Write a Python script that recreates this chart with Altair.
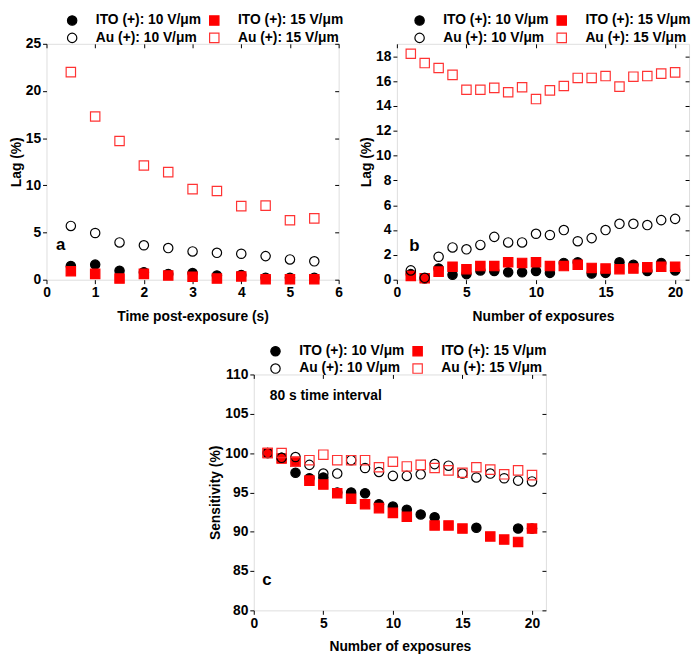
import altair as alt
import pandas as pd

FONT = "Liberation Sans"

series = ["ITO (+): 10 V/μm", "ITO (+): 15 V/μm", "Au (+): 10 V/μm", "Au (+): 15 V/μm"]
shapes = ["circle", "square", "circle", "square"]
strokes = ["#000000", "#ff0000", "#000000", "#ff3333"]
fills = ["#000000", "#ff0000", "transparent", "transparent"]

# Panel a: lag vs time post-exposure
a_x = [0.5, 1.0, 1.5, 2.0, 2.5, 3.0, 3.5, 4.0, 4.5, 5.0, 5.5]
a_ito10 = [1.45, 1.6, 0.95, 0.8, 0.6, 0.7, 0.45, 0.5, 0.2, 0.2, 0.2]
a_ito15 = [0.9, 0.62, 0.12, 0.62, 0.45, 0.32, 0.12, 0.35, 0.05, 0.05, 0.05]
a_au10 = [5.7, 4.95, 3.95, 3.65, 3.35, 3.0, 2.85, 2.75, 2.5, 2.15, 1.95]
a_au15 = [22.0, 17.3, 14.7, 12.1, 11.4, 9.6, 9.4, 7.8, 7.85, 6.3, 6.5]

# Panel b: lag vs number of exposures
b_x = list(range(1, 21))
b_ito10 = [0.45, 0.1, 0.9, 0.4, 0.45, 0.75, 0.7, 0.6, 0.6, 0.7, 0.55, 1.35, 1.4, 0.5, 0.55, 1.4, 1.2, 0.7, 1.35, 0.75]
b_ito15 = [0.3, 0.12, 0.65, 1.05, 0.85, 1.1, 1.1, 1.4, 1.35, 1.4, 1.1, 1.1, 1.2, 0.95, 0.9, 0.85, 0.9, 1.0, 1.05, 1.05]
b_au10 = [0.75, 0.15, 1.85, 2.6, 2.45, 2.8, 3.45, 3.0, 3.0, 3.7, 3.6, 4.0, 3.1, 3.35, 4.0, 4.5, 4.5, 4.4, 4.8, 4.9]
b_au15 = [18.2, 17.45, 17.05, 16.5, 15.3, 15.3, 15.45, 15.1, 15.5, 14.55, 15.25, 15.6, 16.25, 16.25, 16.4, 15.55, 16.35, 16.4, 16.6, 16.7]

# Panel c: sensitivity vs number of exposures
c_x = list(range(1, 21))
c_ito10 = [100, 99.4, 97.5, 96.8, 96.9, 95.0, 95.0, 94.9, 93.5, 93.2, 92.8, 92.2, 91.85, None, None, 90.5, None, None, 90.4, 90.4]
c_ito15 = [100, 99.3, 98.9, 96.5, 96.0, 94.9, 94.2, 93.5, 93.0, 92.4, 91.9, None, 90.8, 90.8, 90.4, None, 89.4, 89.0, 88.7, 90.4]
c_au10 = [100, 99.4, 99.5, 98.5, 97.4, 97.4, 99.1, 98.1, 97.6, 97.1, 97.1, 97.3, 98.6, 98.4, 97.4, 96.9, 97.4, 96.8, 96.5, 96.4]
c_au15 = [100, 100.0, 98.9, 99.1, 99.8, 99.1, 99.1, 99.1, 98.2, 98.9, 98.3, 98.5, 98.1, 97.8, 97.5, 98.2, 97.9, 97.3, 97.8, 97.2]

# annotations (data coordinates)
a_notes = pd.DataFrame({"x": [0.29], "y": [3.68], "t": ["a"]})
b_notes = pd.DataFrame({"x": [1.26], "y": [2.75], "t": ["b"]})
c_notes = pd.DataFrame({"x": [0.95], "y": [83.8], "t": ["c"]})
c_label = pd.DataFrame({"x": [1.15], "y": [107.2], "t": ["80 s time interval"]})

W, H = 296, 239


def long(x, cols):
    rows = []
    for name, vals in zip(series, cols):
        for xi, v in zip(x, vals):
            if v is not None:
                rows.append({"x": xi, "y": v, "s": name})
    return pd.DataFrame(rows)


def axis_main(values, title, orient, tpad):
    return alt.Axis(values=values, title=title, orient=orient, domain=False,
                    tickSize=4, tickColor="black", labelPadding=2,
                    labelFont=FONT, labelFontSize=14, labelFontWeight="bold", labelColor="black",
                    titleFont=FONT, titleFontSize=14, titleFontWeight="bold", titleColor="black",
                    titlePadding=tpad, grid=False, labelFlush=False, labelOverlap=False)


def axis_mirror(values, orient):
    return alt.Axis(values=values, title=None, orient=orient, domain=False, labels=False,
                    tickSize=4, tickColor="black", offset=-4, grid=False)


def panel(df, xdom, ydom, xticks, yticks, xtitle, ytitle, legx, notes_list):
    xs = alt.Scale(domain=xdom, nice=False, zero=False)
    ys = alt.Scale(domain=ydom, nice=False, zero=False)
    leg = alt.Legend(title=None, orient="none", legendX=legx, legendY=-31, columns=2,
                     direction="horizontal",
                     padding=0, rowPadding=2, columnPadding=5, labelOffset=17,
                     labelFont=FONT, labelFontSize=14, labelFontWeight="bold", labelColor="black",
                     symbolSize=90, symbolStrokeWidth=1.2, labelLimit=300)
    pts = alt.Chart(df).mark_point(size=90, strokeWidth=1.2, opacity=1).encode(
        x=alt.X("x:Q", scale=xs, axis=axis_main(xticks, xtitle, "bottom", 10)),
        y=alt.Y("y:Q", scale=ys, axis=axis_main(yticks, ytitle, "left", 2)),
        shape=alt.Shape("s:N", scale=alt.Scale(domain=series, range=shapes), legend=leg),
        color=alt.Color("s:N", scale=alt.Scale(domain=series, range=strokes), legend=leg),
        fill=alt.Fill("s:N", scale=alt.Scale(domain=series, range=fills), legend=leg),
    )
    mirror = alt.Chart(df).mark_point(opacity=0).encode(
        x=alt.X("x:Q", scale=xs, axis=axis_mirror(xticks, "top")),
        y=alt.Y("y:Q", scale=ys, axis=axis_mirror(yticks, "right")),
    )
    layers = [pts, mirror]
    for nd, size, align in notes_list:
        layers.append(
            alt.Chart(nd).mark_text(font=FONT, fontSize=size, fontWeight="bold", color="black",
                                    align=align, baseline="middle").encode(
                x=alt.X("x:Q", scale=xs, axis=None),
                y=alt.Y("y:Q", scale=ys, axis=None),
                text="t:N",
            )
        )
    return alt.layer(*layers).resolve_axis(x="independent", y="independent").properties(width=W, height=H)


pa = panel(long(a_x, [a_ito10, a_ito15, a_au10, a_au15]), [0, 6], [0, 25],
           [0, 1, 2, 3, 4, 5, 6], [0, 5, 10, 15, 20, 25],
           "Time post-exposure (s)", "Lag (%)", 19, [(a_notes, 17, "center")])
pb = panel(long(b_x, [b_ito10, b_ito15, b_au10, b_au15]), [0, 21], [0, 19],
           [0, 5, 10, 15, 20], [0, 2, 4, 6, 8, 10, 12, 14, 16, 18],
           "Number of exposures", "Lag (%)", 16, [(b_notes, 17, "center")])
pc = panel(long(c_x, [c_ito10, c_ito15, c_au10, c_au15]), [0, 21], [80, 110],
           [0, 5, 10, 15, 20], [80, 85, 90, 95, 100, 105, 110],
           "Number of exposures", "Sensitivity (%)", 15,
           [(c_notes, 17, "center"), (c_label, 14, "left")])

spacer = alt.Chart(pd.DataFrame({"x": [0], "y": [0]})).mark_point(opacity=0).encode(
    x=alt.X("x:Q", axis=None), y=alt.Y("y:Q", axis=None)
).properties(width=164, height=10, view=alt.ViewBackground(strokeOpacity=0))

indep = dict(shape="independent", color="independent", fill="independent")
top = alt.hconcat(pa, pb, spacing=14).resolve_scale(**indep).resolve_legend(**indep)
bottom = alt.hconcat(spacer, pc, spacing=0).resolve_scale(**indep).resolve_legend(**indep)
chart = alt.vconcat(top, bottom, spacing=19).resolve_scale(**indep).resolve_legend(**indep).properties(
    padding={"left": 0, "top": 0, "right": 0, "bottom": 0}
).configure_view(stroke="black", strokeWidth=1).configure(background="white")

chart.save("out.html", embed_options={"renderer": "svg", "actions": False})
